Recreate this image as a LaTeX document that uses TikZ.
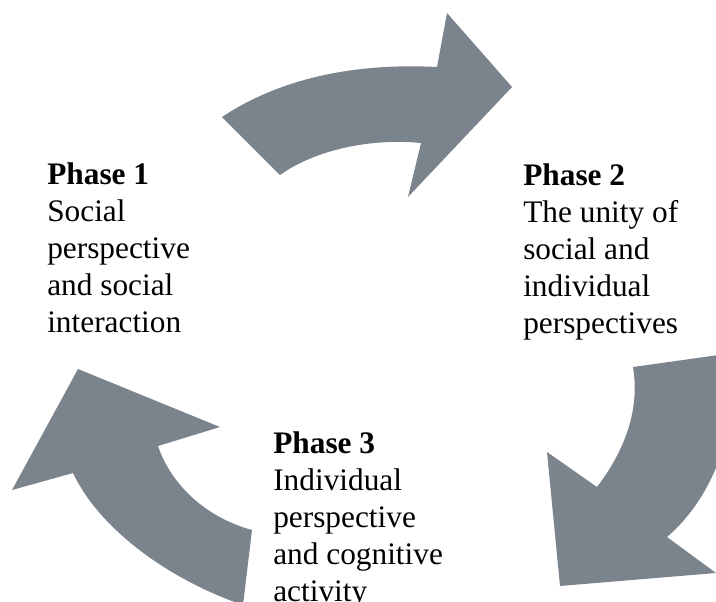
\documentclass[tikz,border=0pt]{standalone}
\usepackage{fontspec}
\setmainfont{Liberation Serif}
\usepackage{tikz}
\definecolor{arrowgray}{RGB}{123,132,140}
\tikzstyle{cyclearrow}=[fill=arrowgray,draw=none]
\tikzstyle{phasetext}=[anchor=north west,inner sep=0pt,align=left,font=\fontsize{23.5}{27.75}\selectfont]

\begin{document}
\begin{tikzpicture}[x=0.75pt,y=-0.75pt]
\useasboundingbox ( 0 , 0 ) rectangle ( 716 , 601 );
\clip ( 0 , 0 ) rectangle ( 716 , 601 );
\fill[cyclearrow] ( 222 , 117 ) .. controls ( 270 , 85 ) and ( 340 , 62 ) .. ( 437 , 67 )
  -- ( 447 , 13 ) -- ( 512 , 87 ) -- ( 408 , 197 ) -- ( 421 , 143 )
  .. controls ( 370 , 138 ) and ( 315 , 150 ) .. ( 280 , 175 ) -- cycle;
\fill[cyclearrow] ( 633 , 367 ) -- ( 740 , 352 ) .. controls ( 735 , 440 ) and ( 710 , 500 ) .. ( 667 , 537 )
  -- ( 716 , 573 ) -- ( 560 , 586 ) -- ( 547 , 452 ) -- ( 597 , 487 )
  .. controls ( 625 , 450 ) and ( 640 , 410 ) .. ( 633 , 367 ) -- cycle;
\fill[cyclearrow] ( 252 , 530 ) -- ( 243 , 605 ) .. controls ( 170 , 580 ) and ( 100 , 530 ) .. ( 73 , 473 )
  -- ( 12 , 490 ) -- ( 78 , 369 ) -- ( 220 , 427 ) -- ( 158 , 446 )
  .. controls ( 172 , 487 ) and ( 208 , 518 ) .. ( 252 , 530 ) -- cycle;
\node[phasetext] (phase1) at ( 47 , 162 ) {\textbf{Phase 1}\\Social\\perspective\\and social\\interaction};
\node[phasetext] (phase2) at ( 523 , 163 ) {\textbf{Phase 2}\\The unity of\\social and\\individual\\perspectives};
\node[phasetext] (phase3) at ( 273 , 431 ) {\textbf{Phase 3}\\Individual\\perspective\\and cognitive\\activity};
\end{tikzpicture}
\end{document}
